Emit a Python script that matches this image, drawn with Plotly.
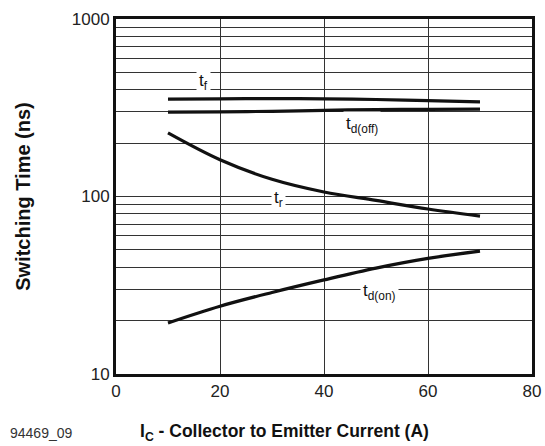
import math
import plotly.graph_objects as go

# ---- data ----
ic = [10, 20, 30, 40, 50, 60, 70]
t_f = [354, 355, 356, 355, 352, 347, 341]
t_d_off = [299, 300, 302, 306, 309, 310, 311]
t_r = [228, 161, 125, 106, 95, 85, 77.6]
t_d_on = [19.4, 24.1, 28.8, 33.9, 39.5, 44.8, 49.2]

x_ticks = [0, 20, 40, 60, 80]
y_grid = [10, 20, 30, 40, 50, 60, 70, 80, 90,
          100, 200, 300, 400, 500, 600, 700, 800, 900, 1000]
y_labels = ["10", "", "", "", "", "", "", "", "",
            "100", "", "", "", "", "", "", "", "", "1000"]

curve_labels = ["t<sub>f</sub>", "t<sub>d(off)</sub>", "t<sub>r</sub>", "t<sub>d(on)</sub>"]
label_x = [16.9, 47.3, 31.2, 50.6]
label_y = [440, 253, 97, 29]

x_title = "<b>I<sub>C</sub> - Collector to Emitter Current (A)</b>"
y_title = "<b>Switching Time (ns)</b>"
fig_id = "94469_09"

FONT = "Liberation Sans, Arial, sans-serif"

fig = go.Figure()
for ys in [t_f, t_d_off, t_r, t_d_on]:
    fig.add_trace(go.Scatter(x=ic, y=ys, mode="lines",
                             line=dict(color="#111111", width=3.2, shape="spline"),
                             showlegend=False, hoverinfo="skip"))

for txt, lx, ly in zip(curve_labels, label_x, label_y):
    fig.add_annotation(x=lx, y=math.log10(ly), yref="y", xref="x", text=txt,
                       showarrow=False,
                       font=dict(family=FONT, size=17, color="#111111"),
                       bgcolor="white", borderpad=2)

fig.add_annotation(x=-0.26, y=-0.166, xref="paper", yref="paper", xanchor="left",
                   yanchor="middle", text=fig_id, showarrow=False,
                   font=dict(family=FONT, size=14, color="#333333"))

fig.add_annotation(x=0.406, y=-0.166, xref="paper", yref="paper", xanchor="center",
                   yanchor="middle", text=x_title, showarrow=False,
                   font=dict(family=FONT, size=17.5, color="#111111"))

fig.update_layout(
    width=545, height=446,
    margin=dict(l=116, r=13, t=19, b=72),
    paper_bgcolor="white", plot_bgcolor="white",
    font=dict(family=FONT, size=17, color="#222222"),
    xaxis=dict(range=[0, 80], tickvals=x_ticks, ticks="", showgrid=True,
               gridcolor="#333333", gridwidth=1, zeroline=False, automargin=False,
               showline=True, linecolor="#111111", linewidth=3, mirror=True,
               tickfont=dict(size=17)),
    yaxis=dict(type="log", range=[1, 3], tickvals=y_grid, ticktext=y_labels,
               ticks="", showgrid=True, gridcolor="#333333", gridwidth=1,
               zeroline=False, automargin=False, showline=True,
               linecolor="#111111", linewidth=3,
               mirror=True, tickfont=dict(size=17),
               title=dict(text=y_title, font=dict(size=20, color="#111111"),
                          standoff=36)),
)

fig.write_html("out.html", config={"displayModeBar": False},
               post_script="document.body.style.margin='0';")
